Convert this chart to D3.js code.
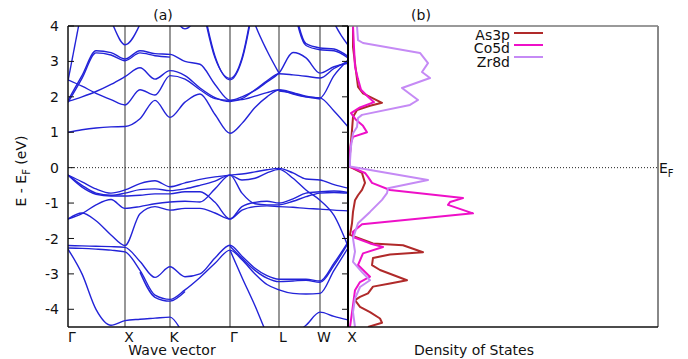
<!DOCTYPE html>
<html>
<head>
<meta charset="utf-8">
<script src="https://cdn.jsdelivr.net/npm/d3@7"></script>
<style>
  body { margin: 0; background: #fff; }
  text { font-family: "DejaVu Sans", sans-serif; font-size: 14px; fill: #111; }
</style>
</head>
<body>
<script>
// ---- Band structure: k-path ----
const kTicks  = [0, 0.57, 1.02, 1.62, 2.11, 2.52, 2.80];
const kLabels = ["Γ", "X", "K", "Γ", "L", "W", "X"];
const kGrid   = [0, 0.14, 0.28, 0.43, 0.57, 0.72, 0.87, 1.02, 1.17, 1.32, 1.47,
                 1.62, 1.74, 1.87, 1.99, 2.11, 2.25, 2.38, 2.52, 2.66, 2.80];
const energyTicks = [-4, -3, -2, -1, 0, 1, 2, 3, 4];

// ---- Bands (eV, relative to E_F) sampled on kGrid; null = not drawn ----
const c1  = [1.00,1.07,1.12,1.15,1.16,1.38,1.90,1.42,1.85,2.08,1.50,0.97,1.25,1.70,2.00,2.19,2.08,2.00,1.97,1.60,1.15];
const c2  = [1.87,2.00,2.15,2.35,2.57,2.82,2.50,2.74,2.60,2.25,1.98,1.87,1.95,2.20,2.45,2.65,2.62,2.58,2.53,2.80,3.00];
const c3  = [2.48,2.30,2.10,1.92,1.77,2.20,2.05,2.60,2.50,2.20,1.95,1.90,2.00,2.18,2.42,2.67,3.25,3.10,2.67,2.85,2.95];
const c4  = [1.90,2.60,3.30,3.25,3.07,3.30,3.22,3.20,3.00,2.92,2.35,1.90,1.92,2.02,2.12,2.20,2.12,2.02,1.97,2.60,3.04];
const c4b = [1.84,2.52,3.24,3.18,3.02,3.24,3.16,3.12,null,null,null,null,null,null,null,2.16,2.10,2.00,1.94,null,null];
const c5  = [2.45,4.50,null,null,null,null,null,null,null,null,null,null,null,null,null,null,null,null,null,null,null];
const c6  = [null,null,null,null,null,null,null,null,null,5.00,3.15,2.48,3.05,4.85,null,null,null,null,null,null,null];
const c6b = [null,null,null,null,null,null,null,null,null,4.90,3.10,2.52,3.10,4.95,null,null,null,null,null,null,null];
const c7  = [null,null,null,null,null,null,null,null,null,null,null,null,5.20,4.05,3.30,2.67,null,null,null,null,null];
const c8  = [null,null,null,null,null,null,null,null,null,null,null,null,null,null,null,null,4.60,3.45,3.33,3.30,3.10];
const c8b = [null,null,null,null,null,null,null,null,null,null,null,null,null,null,null,null,4.70,3.50,3.38,3.35,3.14];
const c9  = [null,null,null,null,null,null,null,null,null,null,null,null,null,null,null,null,null,null,5.20,4.10,3.46];
const c10 = [null,null,5.20,4.15,3.47,4.05,5.30,null,null,null,null,null,null,null,null,null,null,null,null,null,null];
const c11 = [null,null,null,null,null,null,null,4.50,3.92,4.40,null,null,null,null,null,null,null,null,null,null,null];

const v1  = [-0.21,-0.40,-0.60,-0.72,-0.63,-0.45,-0.37,-0.54,-0.43,-0.33,-0.26,-0.21,-0.18,-0.12,-0.06,-0.02,-0.15,-0.32,-0.35,-0.48,-0.58];
const v2  = [-0.21,-0.50,-0.72,-0.78,-0.72,-0.62,-0.60,-0.65,-0.60,-0.50,-0.38,-0.21,-0.72,-1.02,-1.05,-1.05,-0.95,-0.82,-0.72,-0.70,-0.72];
const v3  = [-1.45,-1.30,-1.05,-0.90,-1.15,-1.10,-1.02,-0.97,-0.95,-0.97,-0.60,-0.21,-0.35,-0.30,-0.15,-0.05,-0.30,-0.63,-0.92,-1.35,-2.22];
const v4  = [-1.45,-1.28,-1.50,-1.90,-2.20,-1.30,-1.10,-1.20,-1.15,-1.15,-1.28,-1.45,-1.20,-1.10,-1.08,-1.10,-1.12,-1.15,-1.17,-1.20,-1.22];
const v5  = [-0.21,-0.55,-0.75,-0.80,-0.80,-0.78,-0.74,-0.74,-0.68,-0.68,-0.98,-1.45,-1.10,-0.98,-0.95,-1.00,-0.88,-0.72,-0.68,-0.66,-0.70];
const v7  = [-2.20,-2.21,-2.22,-2.23,-2.25,-2.65,-3.10,-2.80,-3.08,-3.00,-2.55,-2.19,-2.50,-2.84,-3.05,-3.15,-3.15,-3.15,-3.20,-2.70,-2.10];
const v7b = [null,null,null,null,null,null,null,null,null,null,null,-2.22,-2.56,-2.90,-3.12,-3.22,-3.20,-3.18,-3.24,-2.76,-2.14];
const v8  = [-2.27,-2.28,-2.30,-2.33,-2.38,-2.90,-3.60,-3.72,-3.45,-3.10,-2.70,-2.33,-2.60,-3.00,-3.30,-3.45,-3.55,-3.57,-3.55,-2.90,-2.27];
const v8b = [null,null,null,null,null,-2.95,-3.66,-3.77,-3.50,null,null,null,null,null,null,null,null,null,null,null,null];
const v9  = [-2.30,-3.00,-4.00,-4.45,-4.32,-4.28,-4.25,-4.22,-4.75,-5.20,-5.40,-5.50,-5.30,-5.00,-4.80,-4.70,-4.70,-4.45,-4.08,-4.20,-4.30];
const v10 = [null,null,null,null,null,null,null,null,null,null,null,-2.33,-3.10,-3.90,-4.70,-5.30,null,null,null,null,null];

const bands = [c1, c2, c3, c4, c4b, c5, c6, c6b, c7, c8, c8b, c9, c10, c11,
               v1, v2, v3, v4, v5, v7, v7b, v8, v8b, v9, v10];

// ---- Projected density of states (arb. units) ----
const as3pE = [4.0,3.41,2.95,2.28,2.1,1.97,1.83,1.75,1.63,1.43,1.06,0.4,0.02,-0.15,-0.43,-0.63,-0.78,-0.92,-1.25,-1.57,-1.9,
               -2.14,-2.19,-2.39,-2.45,-2.55,-2.75,-2.89,-3.18,-3.27,-3.36,-3.55,-3.65,-3.74,-3.93,-4.08,-4.26,-4.38,-4.5];
const as3pD = [0.5,0.5,0.7,1.0,1.5,2.4,3.4,2.2,0.9,0.5,0.4,0.2,0.2,1.4,1.7,1.4,1.0,0.7,0.5,0.4,0.2,
               2.5,5.5,7.5,4.2,2.5,2.4,3.2,5.9,4.2,2.5,2.0,1.2,0.7,1.2,2.2,3.2,3.4,2.0];
const co5dE = [4.0,3.4,2.85,2.5,2.2,2.0,1.85,1.7,1.54,1.35,1.18,1.0,0.87,0.7,0.3,0.03,-0.15,-0.26,-0.43,-0.63,-0.86,-0.97,
               -1.05,-1.29,-1.6,-1.81,-1.96,-2.14,-2.24,-2.42,-2.75,-3.08,-3.23,-3.46,-3.88,-4.5];
const co5dD = [0.5,0.6,0.7,1.0,1.3,2.0,2.6,1.2,0.3,0.8,1.5,1.9,0.5,0.3,0.15,0.2,1.7,2.0,2.4,4.2,11.5,10.2,
               10.0,12.5,1.4,0.5,0.5,2.2,3.5,1.5,1.0,2.2,1.2,0.7,0.5,0.2];
const zr8dE = [4.0,3.6,3.52,3.24,2.95,2.7,2.53,2.25,1.91,1.77,1.49,1.4,1.15,0.97,0.6,0.2,0.03,-0.35,-0.58,-0.72,-0.91,
               -1.25,-1.57,-2.0,-2.37,-2.66,-2.95,-3.18,-3.37,-3.7,-4.08,-4.5];
const zr8dD = [0.9,1.0,1.5,7.2,8.0,7.4,8.2,5.4,7.0,6.2,1.4,1.0,0.9,0.5,0.3,0.2,0.2,8.0,4.0,3.9,3.4,
               2.2,1.0,0.5,0.7,0.5,1.4,2.2,1.2,0.7,0.5,0.7];

const dosNames  = ["As3p", "Co5d", "Zr8d"];
const dosColors = ["#b02a2a", "#ee10c8", "#c58af5"];
const dosSeries = [[as3pE, as3pD], [co5dE, co5dD], [zr8dE, zr8dD]];

// ---- Layout ----
const W = 688, H = 359;
const bandL = 68, bandR = 348, dosR = 658, plotTop = 26, plotBottom = 327;

const svg = d3.select("body").append("svg").attr("width", W).attr("height", H);

const x = d3.scaleLinear().domain([kTicks[0], kTicks[kTicks.length - 1]]).range([bandL, bandR]);
const y = d3.scaleLinear().domain([-4.5, 4]).range([plotBottom, plotTop]);
const xd = d3.scaleLinear().domain([0, 31]).range([bandR, dosR]);

const defs = svg.append("defs");
defs.append("clipPath").attr("id", "clipBand").append("rect")
  .attr("x", bandL).attr("y", plotTop).attr("width", bandR - bandL).attr("height", plotBottom - plotTop);
defs.append("clipPath").attr("id", "clipDos").append("rect")
  .attr("x", bandR).attr("y", plotTop).attr("width", dosR - bandR).attr("height", plotBottom - plotTop);

// high-symmetry lines
svg.append("g").selectAll("line").data(kTicks.slice(1, -1)).join("line")
  .attr("x1", d => x(d)).attr("x2", d => x(d)).attr("y1", plotTop).attr("y2", plotBottom)
  .attr("stroke", "#606060").attr("stroke-width", 1.3);

// Fermi level
svg.append("line").attr("x1", bandL).attr("x2", dosR).attr("y1", y(0)).attr("y2", y(0))
  .attr("stroke", "#222").attr("stroke-width", 1).attr("stroke-dasharray", "1,2");

// bands
const bandLine = d3.line()
  .defined(d => d[1] !== null)
  .x(d => x(d[0])).y(d => y(d[1]))
  .curve(d3.curveMonotoneX);
svg.append("g").attr("clip-path", "url(#clipBand)")
  .selectAll("path").data(bands).join("path")
  .attr("d", b => bandLine(b.map((e, i) => [kGrid[i], e])))
  .attr("fill", "none").attr("stroke", "#2323d8").attr("stroke-width", 1.4);

// DOS curves
const dosLine = d3.line().x(d => xd(d[1])).y(d => y(d[0]));
svg.append("g").attr("clip-path", "url(#clipDos)")
  .selectAll("path").data(dosSeries).join("path")
  .attr("d", s => dosLine(s[0].map((e, i) => [e, s[1][i]])))
  .attr("fill", "none").attr("stroke", (s, i) => dosColors[i]).attr("stroke-width", 2)
  .attr("stroke-linejoin", "round");

// frames
svg.append("line").attr("x1", bandR).attr("x2", dosR).attr("y1", plotTop).attr("y2", plotTop)
  .attr("stroke", "#777").attr("stroke-width", 1.5);
svg.append("line").attr("x1", dosR).attr("x2", dosR).attr("y1", plotTop).attr("y2", plotBottom)
  .attr("stroke", "#888").attr("stroke-width", 2);
svg.append("line").attr("x1", bandL).attr("x2", bandR).attr("y1", plotTop).attr("y2", plotTop)
  .attr("stroke", "#111").attr("stroke-width", 1.5);
svg.append("line").attr("x1", bandL).attr("x2", dosR).attr("y1", plotBottom).attr("y2", plotBottom)
  .attr("stroke", "#111").attr("stroke-width", 1.5);
svg.append("line").attr("x1", bandL).attr("x2", bandL).attr("y1", plotTop).attr("y2", plotBottom)
  .attr("stroke", "#111").attr("stroke-width", 1.5);
svg.append("line").attr("x1", bandR).attr("x2", bandR).attr("y1", plotTop).attr("y2", plotBottom)
  .attr("stroke", "#000").attr("stroke-width", 2);

// energy axis ticks (inner, both sides of band panel)
const tk = svg.append("g");
tk.selectAll("line.l").data(energyTicks).join("line").attr("class", "l")
  .attr("x1", bandL).attr("x2", bandL + 6).attr("y1", d => y(d)).attr("y2", d => y(d))
  .attr("stroke", "#111").attr("stroke-width", 1);
tk.selectAll("line.r").data(energyTicks).join("line").attr("class", "r")
  .attr("x1", bandR - 6).attr("x2", bandR).attr("y1", d => y(d)).attr("y2", d => y(d))
  .attr("stroke", "#111").attr("stroke-width", 1);
tk.selectAll("text").data(energyTicks).join("text")
  .attr("x", 59).attr("y", d => y(d)).attr("dy", "0.36em").attr("text-anchor", "end")
  .text(d => d);

// k labels
svg.append("g").selectAll("text").data(kTicks).join("text")
  .attr("x", d => x(d) + 4).attr("y", 342).attr("text-anchor", "middle")
  .text((d, i) => kLabels[i]);

// titles and axis labels
svg.append("text").attr("x", 163).attr("y", 20).attr("text-anchor", "middle").text("(a)");
svg.append("text").attr("x", 421).attr("y", 20).attr("text-anchor", "middle").text("(b)");
svg.append("text").attr("x", 172).attr("y", 355).attr("text-anchor", "middle").text("Wave vector");
svg.append("text").attr("x", 474).attr("y", 355).attr("text-anchor", "middle").text("Density of States");

const yl = svg.append("text").attr("transform", "translate(26,171) rotate(-90)").attr("text-anchor", "middle");
yl.append("tspan").text("E - E");
yl.append("tspan").attr("font-size", 10).attr("dy", 4).text("F");
yl.append("tspan").attr("dy", -4).text(" (eV)");

const ef = svg.append("text").attr("x", 659).attr("y", 173);
ef.append("tspan").text("E");
ef.append("tspan").attr("font-size", 10).attr("dy", 4).text("F");

// legend
const lg = svg.append("g");
dosNames.forEach((n, i) => {
  lg.append("text").attr("x", 510).attr("y", 39.5 + i * 13.5).attr("text-anchor", "end").text(n);
  lg.append("line").attr("x1", 514).attr("x2", 543)
    .attr("y1", 33 + i * 12).attr("y2", 33 + i * 12)
    .attr("stroke", dosColors[i]).attr("stroke-width", 2);
});
</script>
</body>
</html>
